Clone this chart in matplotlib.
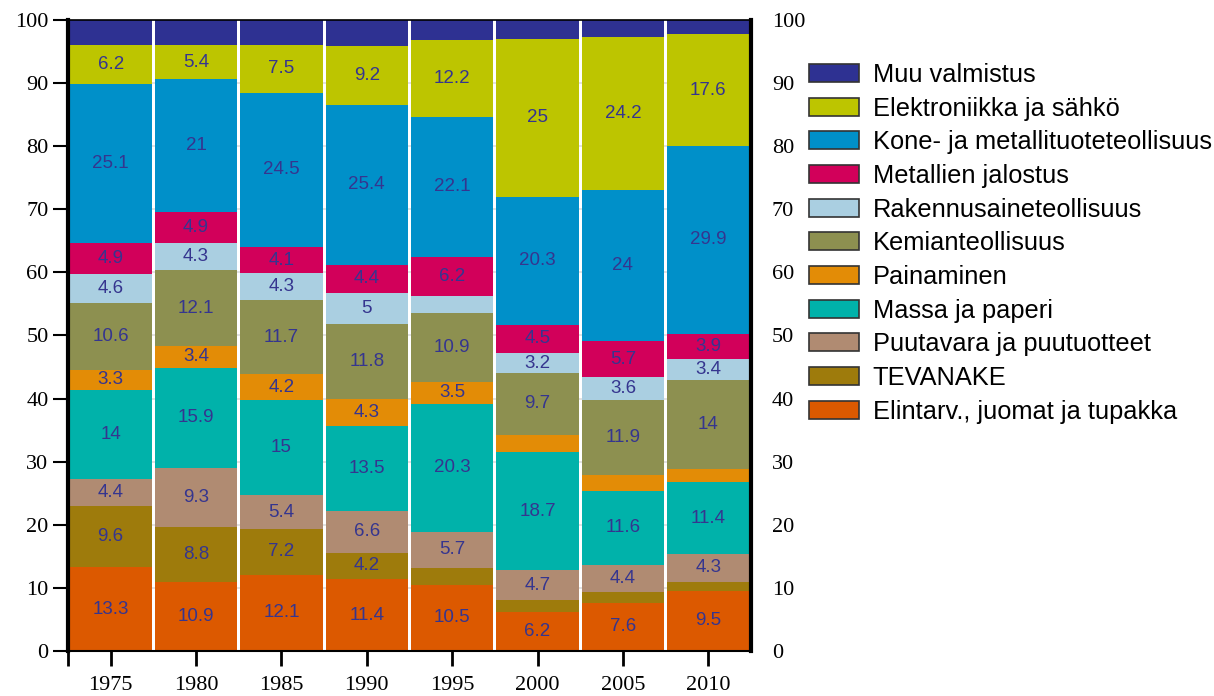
import numpy as np
import matplotlib
matplotlib.use("Agg")
import matplotlib.pyplot as plt
from matplotlib.patches import Patch

# --- Data (osuudet, %) ---
years = ["1975", "1980", "1985", "1990", "1995", "2000", "2005", "2010"]

elintarv   = [13.3, 10.9, 12.1, 11.4, 10.5, 6.2, 7.6, 9.5]
tevanake   = [9.6, 8.8, 7.2, 4.2, 2.7, 1.9, 1.7, 1.5]
puutavara  = [4.4, 9.3, 5.4, 6.6, 5.7, 4.7, 4.4, 4.3]
massa      = [14, 15.9, 15, 13.5, 20.3, 18.7, 11.6, 11.4]
painaminen = [3.3, 3.4, 4.2, 4.3, 3.5, 2.8, 2.6, 2.2]
kemia      = [10.6, 12.1, 11.7, 11.8, 10.9, 9.7, 11.9, 14]
rakennus   = [4.6, 4.3, 4.3, 5, 2.7, 3.2, 3.6, 3.4]
metallien  = [4.9, 4.9, 4.1, 4.4, 6.2, 4.5, 5.7, 3.9]
kone       = [25.1, 21, 24.5, 25.4, 22.1, 20.3, 24, 29.9]
elektro    = [6.2, 5.4, 7.5, 9.2, 12.2, 25, 24.2, 17.6]
muu        = [4.0, 4.0, 4.0, 4.2, 3.2, 3.1, 2.7, 2.3]

names = ["Elintarv., juomat ja tupakka", "TEVANAKE", "Puutavara ja puutuotteet",
         "Massa ja paperi", "Painaminen", "Kemianteollisuus", "Rakennusaineteollisuus",
         "Metallien jalostus", "Kone- ja metallituoteteollisuus",
         "Elektroniikka ja sähkö", "Muu valmistus"]
series = [elintarv, tevanake, puutavara, massa, painaminen, kemia, rakennus,
          metallien, kone, elektro, muu]
colors = ["#DC5900", "#9E7B0C", "#B08B72", "#00B2AA", "#E38C06", "#8D9050",
          "#AACFE1", "#D2005A", "#0090C9", "#BDC500", "#2E3192"]
show_label = [True] * 10 + [False]   # Muu valmistus ei arvoja

fig = plt.figure(figsize=(12.14, 6.96), dpi=100)
ax = fig.add_axes([0.056, 0.0647, 0.5626, 0.9066])

x = np.arange(len(years))
bottom = np.zeros(len(years))
for vals, col, lab in zip(series, colors, show_label):
    vals = np.array(vals, dtype=float)
    ax.bar(x, vals, width=0.965, bottom=bottom, color=col, zorder=2)
    if lab:
        for xi, b, v in zip(x, bottom, vals):
            if v >= 3:
                ax.text(xi, b + v / 2, f"{v:g}", ha="center", va="center",
                        color="#35358F", fontsize=13.5,
                        family="Liberation Sans", zorder=3)
    bottom += vals

ax.set_xlim(-0.5, len(years) - 0.5)
ax.set_ylim(0, 100)
ax.set_yticks(np.arange(0, 101, 10))
ax.yaxis.grid(True, color="#DDDDDD", linewidth=1.2, zorder=0)
ax.set_axisbelow(True)

ax.set_xticks(x)
ax.set_xticklabels(years)
ax.set_xticks([-0.5], minor=True)

for lbl in ax.get_xticklabels() + ax.get_yticklabels():
    lbl.set_family("Liberation Serif")
    lbl.set_fontsize(16)

ax.tick_params(axis="y", direction="out", length=11, width=1.5, pad=3)
ax.tick_params(axis="x", which="both", direction="out", length=11, width=2, pad=7)

ax.spines["left"].set_linewidth(3)
ax.spines["right"].set_linewidth(3)
ax.spines["bottom"].set_linewidth(1.5)
ax.spines["top"].set_linewidth(1.2)

# oikean puolen asteikko ilman viivoja
ax2 = ax.twinx()
ax2.set_ylim(0, 100)
ax2.set_yticks(np.arange(0, 101, 10))
ax2.tick_params(axis="y", length=0, pad=15)
for lbl in ax2.get_yticklabels():
    lbl.set_family("Liberation Serif")
    lbl.set_fontsize(16)
for s in ax2.spines.values():
    s.set_visible(False)

handles = [Patch(facecolor=c, edgecolor="#333333", linewidth=1.2, label=n)
           for c, n in zip(colors, names)][::-1]
fig.legend(handles=handles, loc="upper left", bbox_to_anchor=(0.666, 0.9095),
           frameon=False, prop={"family": "Liberation Sans", "size": 18.3},
           handlelength=1.97, handleheight=0.71, handletextpad=0.55,
           labelspacing=0.38, borderpad=0, borderaxespad=0)

fig.savefig("out.png", dpi=100)
